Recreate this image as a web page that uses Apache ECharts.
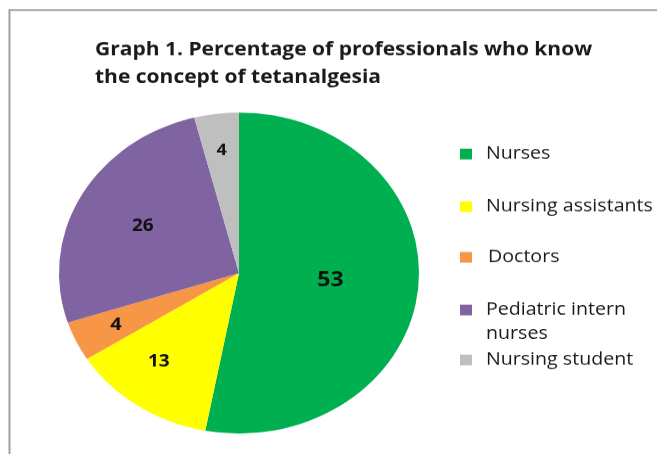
<!DOCTYPE html>
<html>
<head>
<meta charset="utf-8">
<script src="https://cdn.jsdelivr.net/npm/echarts@6/dist/echarts.min.js"></script>
<style>
html,body{margin:0;padding:0;background:#fff;overflow:hidden;}
#chart{position:absolute;left:0;top:0;width:657px;height:509px;transform-origin:0 0;transform:scaleY(0.8917);}
</style>
</head>
<body>
<div id="chart"></div>
<script>
// ---- data ----
const categories = ['Nurses', 'Nursing assistants', 'Doctors', 'Pediatric intern nurses', 'Nursing student'];
const values = [53, 13, 4, 26, 4];
const legendLabels = ['Nurses', 'Nursing assistants', 'Doctors', 'Pediatric intern\nnurses', 'Nursing student'];
const titleText = 'Graph 1. Percentage of professionals who know\nthe concept of tetanalgesia';

// ---- styles / layout ----
const colors = ['#00B050', '#FFFF00', '#F79646', '#8064A2', '#BFBFBF'];
const labelRadius = [0.51, 0.71, 0.755, 0.61, 0.77];
const labelAngleShift = [0, 4.7, 0, 0, 0];
const labelSize = [23, 19, 20, 19, 18];
const SY = 0.8917;
const CX = 239, CY = 273 / SY, R = 180;
const legendCenters = [154, 206.7, 257.3, 310, 360].map(v => v / SY);
const legendPadLeft = [9, 9, 11, 9, 9];
const FONT = '"Open Sans", sans-serif';

const chart = echarts.init(document.getElementById('chart'), null, {renderer: 'canvas'});

const legends = categories.map((name, i) => {
  const twoLine = legendLabels[i].indexOf('\n') >= 0;
  const lh = twoLine ? 26.8 : 22;
  const boxH = twoLine ? lh * 3 : lh;
  return {
    data: [name],
    orient: 'vertical',
    left: 460,
    top: legendCenters[i] - boxH / 2,
    padding: 0,
    icon: 'rect',
    itemWidth: 12,
    itemHeight: 12,
    selectedMode: false,
    // blank leading line keeps the marker level with the first text line
    formatter: () => (twoLine ? ' \n' : '') + legendLabels[i],
    textStyle: {
      fontFamily: FONT,
      fontSize: 19.6,
      color: '#1a1a1a',
      lineHeight: lh,
      padding: [0, 0, 0, legendPadLeft[i]]
    }
  };
});

const option = {
  animation: false,
  backgroundColor: '#fff',
  title: {
    text: titleText,
    left: 95,
    top: 40,
    padding: 0,
    textStyle: {
      fontFamily: FONT,
      fontWeight: 'bold',
      fontSize: 21,
      lineHeight: 31.4,
      color: '#1a1a1a'
    }
  },
  graphic: [{
    type: 'rect',
    silent: true,
    shape: {x: 9.5, y: 11.2, width: 700, height: 600},
    style: {fill: 'none', stroke: '#A0A0A0', lineWidth: 2}
  }],
  legend: legends,
  series: [{
    type: 'pie',
    center: [CX, CY],
    radius: R,
    startAngle: 90,
    clockwise: true,
    avoidLabelOverlap: false,
    itemStyle: {borderWidth: 0},
    emphasis: {scale: false},
    label: {
      show: true,
      position: 'inside',
      formatter: '{c}',
      fontFamily: FONT,
      fontWeight: 'bold',
      color: '#111'
    },
    labelLine: {show: false},
    labelLayout: function (p) {
      const i = p.dataIndex;
      const lx = p.labelRect.x + p.labelRect.width / 2;
      const ly = p.labelRect.y + p.labelRect.height / 2;
      const vx = lx - CX, vy = ly - CY;
      const d = Math.hypot(vx, vy) || 1;
      const t = labelRadius[i] * R;
      const a = labelAngleShift[i] * Math.PI / 180;
      const ux = vx / d, uy = vy / d;
      const rx = ux * Math.cos(a) - uy * Math.sin(a);
      const ry = ux * Math.sin(a) + uy * Math.cos(a);
      return {dx: rx * t - vx, dy: ry * t - vy};
    },
    data: categories.map((name, i) => ({
      name: name,
      value: values[i],
      itemStyle: {color: colors[i]},
      label: {fontSize: labelSize[i]}
    }))
  }]
};
chart.setOption(option);
</script>
</body>
</html>
